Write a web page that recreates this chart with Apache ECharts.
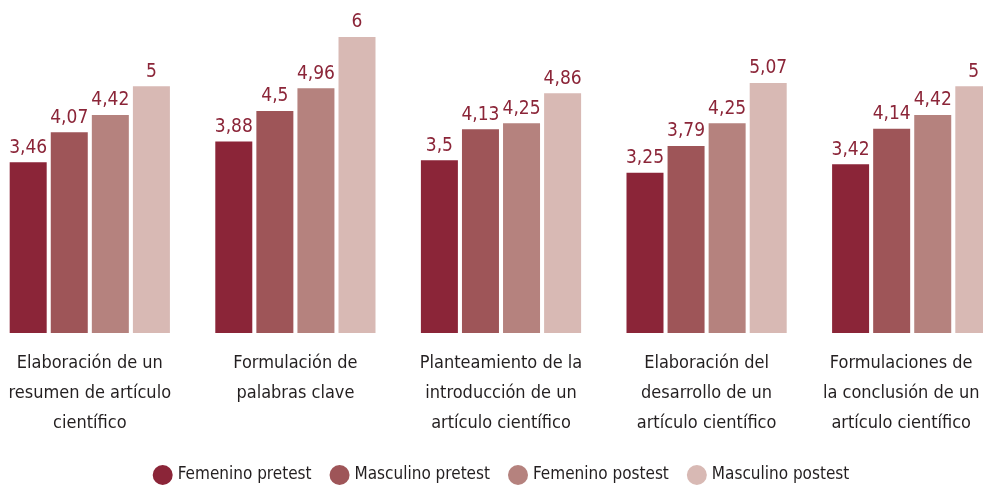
<!DOCTYPE html>
<html><head><meta charset="utf-8">
<script src="https://cdn.jsdelivr.net/npm/echarts@6/dist/echarts.min.js"></script>
<style>html,body{margin:0;padding:0;background:#fff;overflow:hidden;width:983px;height:486px}#c{position:absolute;left:-13px;top:0;width:1028px;height:486px}</style>
</head><body><div id="c"></div>
<script>
var categories = [
  "Elaboración de un\nresumen de artículo\ncientífico",
  "Formulación de\npalabras clave",
  "Planteamiento de la\nintroducción de un\nartículo científico",
  "Elaboración del\ndesarrollo de un\nartículo científico",
  "Formulaciones de\nla conclusión de un\nartículo científico"
];
var seriesNames = ["Femenino pretest", "Masculino pretest", "Femenino postest", "Masculino postest"];
var femeninoPretest = [3.46, 3.88, 3.5, 3.25, 3.42];
var masculinoPretest = [4.07, 4.5, 4.13, 3.79, 4.14];
var femeninoPostest = [4.42, 4.96, 4.25, 4.25, 4.42];
var masculinoPostest = [5, 6, 4.86, 5.07, 5];
var colors = ["#8B2538", "#9E5558", "#B5827E", "#D8B9B4"];
var FONT = "'Liberation Sans Narrow','DejaVu Sans Condensed',sans-serif";

var allData = [femeninoPretest, masculinoPretest, femeninoPostest, masculinoPostest];
var catData = categories.map(function (c, i) {
  return i === categories.length - 1 ? {value: c, textStyle: {padding: [0, 22, 0, 0]}} : c;
});
var chart = echarts.init(document.getElementById('c'), null, {renderer: 'canvas'});
chart.setOption({
  animation: false,
  color: colors,
  grid: {left: 0, right: 0, top: 37, bottom: 153, containLabel: false},
  legend: {
    top: 460, left: 'center',
    icon: 'circle', itemWidth: 20, itemHeight: 20, itemGap: 18,
    textStyle: {fontFamily: FONT, fontSize: 17, color: '#231F20'},
    data: seriesNames
  },
  xAxis: {
    type: 'category', data: catData,
    axisLine: {show: false}, axisTick: {show: false},
    axisLabel: {interval: 0, margin: 15, fontFamily: FONT, fontSize: 18, lineHeight: 30, color: '#231F20'}
  },
  yAxis: {type: 'value', min: 0, max: 6, show: false, splitLine: {show: false}},
  series: allData.map(function (d, i) {
    return {
      name: seriesNames[i], type: 'bar', data: d,
      barWidth: 37, barGap: '11%',
      itemStyle: {color: colors[i]},
      label: {
        show: true, position: 'top', distance: 5,
        fontFamily: FONT, fontSize: 19, color: '#8B2538',
        formatter: function (p) { return String(p.value).replace('.', ','); }
      }
    };
  })
});
</script></body></html>
